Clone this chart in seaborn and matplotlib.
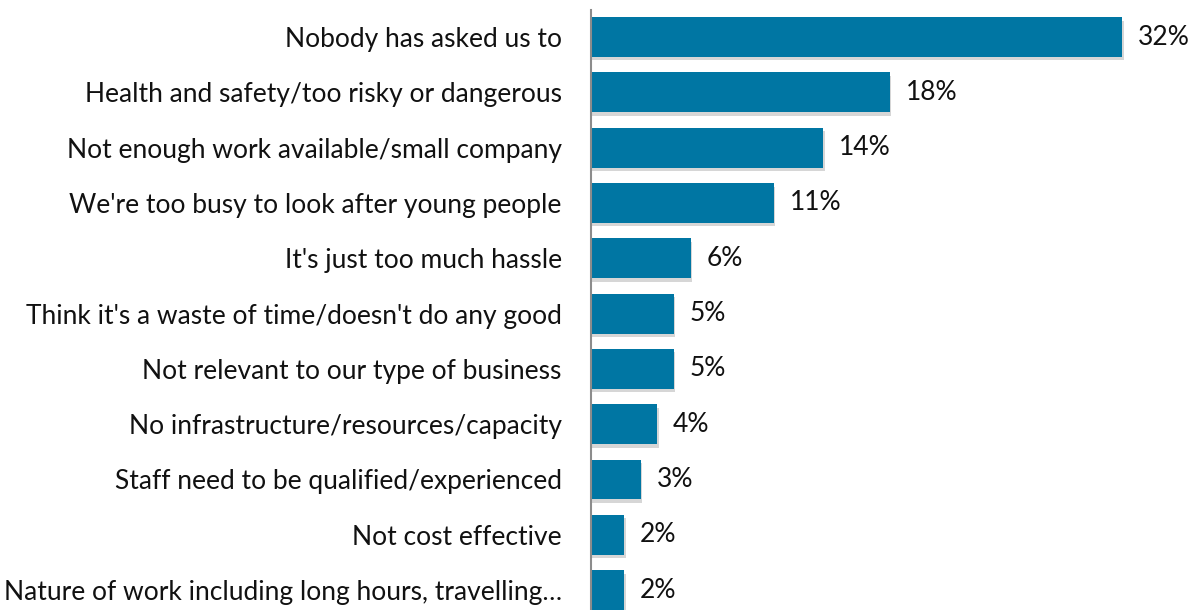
import matplotlib
matplotlib.use("Agg")
import matplotlib.pyplot as plt
import matplotlib.patheffects as pe
import seaborn as sns
import pandas as pd

reasons = [
    "Nobody has asked us to",
    "Health and safety/too risky or dangerous",
    "Not enough work available/small company",
    "We're too busy to look after young people",
    "It's just too much hassle",
    "Think it's a waste of time/doesn't do any good",
    "Not relevant to our type of business",
    "No infrastructure/resources/capacity",
    "Staff need to be qualified/experienced",
    "Not cost effective",
    "Nature of work including long hours, travelling\u2026",
]
shares = [32, 18, 14, 11, 6, 5, 5, 4, 3, 2, 2]

df = pd.DataFrame({"reason": reasons, "share": shares})

sns.set_theme(style="white")
plt.rcParams["font.family"] = ["Lato", "DejaVu Sans"]

fig = plt.figure(figsize=(11.97, 6.10), dpi=100)
ax = fig.add_axes([591 / 1197, 0.0, 606 / 1197, 1 - 10 / 610])

bar_color = "#0076A3"
sns.barplot(data=df, y="reason", x="share", orient="h", color=bar_color,
            saturation=1, width=0.72, ax=ax)

for patch in ax.patches:
    patch.set_linewidth(0)
    patch.set_path_effects([
        pe.SimplePatchShadow(offset=(1.0, -2.5), shadow_rgbFace="#8a8a8a", alpha=0.35),
        pe.Normal(),
    ])

for i, v in enumerate(shares):
    ax.text(v + 0.95, i, f"{v}%", va="center", ha="left", fontsize=19, color="#111111")

ax.set_xlim(0, 36.5)
ax.set_ylim(10.36, -0.49)
ax.set_xlabel("")
ax.set_ylabel("")
ax.set_xticks([])
ax.tick_params(axis="y", length=0, pad=21, labelsize=19, labelcolor="#111111")
for side in ["top", "right", "bottom"]:
    ax.spines[side].set_visible(False)
ax.spines["left"].set_color("#8c8c8c")
ax.spines["left"].set_linewidth(1.5)

fig.savefig("out.png", dpi=100)
